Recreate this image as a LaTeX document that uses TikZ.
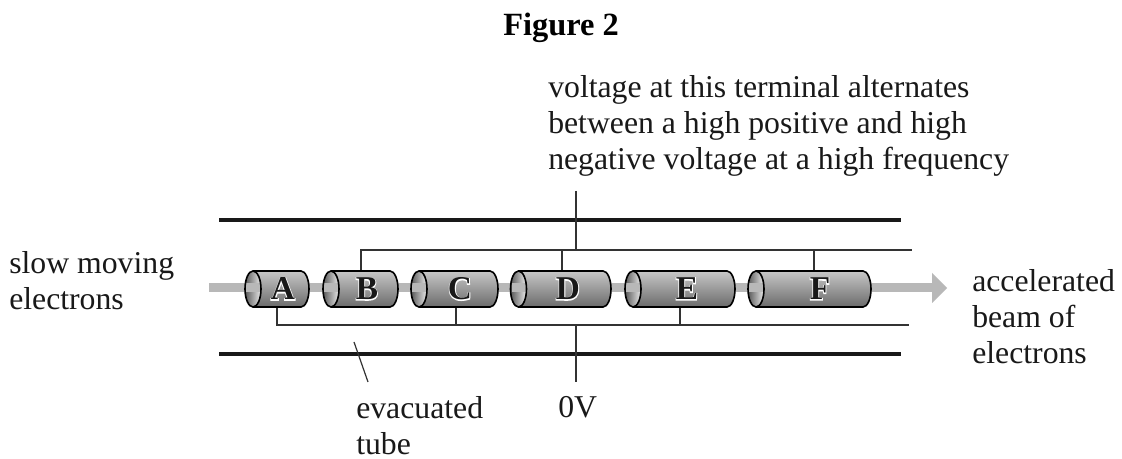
\documentclass[tikz,border=0pt]{standalone}
\usepackage{fontspec}
\setmainfont{Liberation Serif}
\newfontface\halofont[FakeBold=5]{Liberation Serif Bold}
\colorlet{beam}{black!28}
\tikzset{
  x=0.75pt,y=-0.75pt,
  wire/.style={draw=black!80,line width=0.9pt},
  tube/.style={draw=black!90,line width=2.4pt},
  lab/.style={font=\fontsize{23.8}{27}\selectfont,inner sep=0pt,align=left,text=black!90},
  cyllabel/.style={font=\fontsize{25}{25}\selectfont\bfseries,inner sep=0pt,text=black!90},
  halolabel/.style={font=\fontsize{25}{25}\selectfont\halofont,inner sep=0pt,text=white},
}
% #1 name, #2 left centre x, #3 right x, #4 letter, #5 letter x
\newcommand{\cyl}[5]{%
  \shade[top color=black!22,middle color=black!12,bottom color=black!58,shading angle=0]
    (#2,271) -- (#3-8,271) arc[start angle=-90,end angle=90,x radius=8,y radius=18]
    -- (#2,307) arc[start angle=90,end angle=270,x radius=8,y radius=18] -- cycle;
  \shade[left color=black!65,right color=black!8]
    (#2,289) ellipse[x radius=8,y radius=18];
  \fill[beam] (#2-7,283.5) rectangle (#2+7,292.5);
  \draw[black,line width=1.2pt] (#2,289) ellipse[x radius=8,y radius=18];
  \draw[black,line width=1.2pt] (#2,271) -- (#3-8,271)
    arc[start angle=-90,end angle=90,x radius=8,y radius=18] -- (#2,307);
  \node[halolabel] at (#5,289) {#4};
  \node[cyllabel] (#1) at (#5,289) {#4};
}
\begin{document}
\begin{tikzpicture}
\useasboundingbox (0,0) rectangle (1122,459);
\fill[white] (0,0) rectangle (1122,459);
\node[font=\fontsize{24.3}{28}\selectfont\bfseries,inner sep=0pt] (title) at (561,28) {Figure 2};
\node[lab,anchor=north west] (note) at (548,75) {voltage at this terminal alternates\\between a high positive and high\\negative voltage at a high frequency};
\node[lab,anchor=north west] (slow) at (9,251) {slow moving\\electrons};
\node[lab,anchor=north west] (acc) at (972,269) {accelerated\\beam of\\electrons};
\node[lab,anchor=north west] (evac) at (356,396) {evacuated\\tube};
\node[lab,anchor=north west] (zero) at (558,396) {0V};
% tube walls
\coordinate (twl) at (219,220); \coordinate (twr) at (901,220);
\coordinate (bwl) at (219,354); \coordinate (bwr) at (901,354);
\draw[tube] (twl) -- (twr);
\draw[tube] (bwl) -- (bwr);
% beam
\fill[beam] (209,283.5) rectangle (932,292.5);
\fill[beam] (932,273) -- (947,288) -- (932,303) -- cycle;
% wires
\coordinate (ut) at (576,191); \coordinate (uj) at (576,250);
\coordinate (ll) at (576,325); \coordinate (lb) at (576,382);
\draw[wire] (ut) -- (uj);
\draw[wire] (ll) -- (lb);
\draw[wire] (361,271) -- (361,250) -- (912,250);
\draw[wire] (277,307) -- (277,325) -- (909,325);
\draw[wire] (562,250) -- (562,271);
\draw[wire] (814,250) -- (814,271);
\draw[wire] (456,325) -- (456,307);
\draw[wire] (680,325) -- (680,307);
\coordinate (ev1) at (354,342); \coordinate (ev2) at (368,382);
\draw[wire] (ev1) -- (ev2);
% cylinders
\cyl{a}{253}{309}{A}{283}
\cyl{b}{331}{398}{B}{367}
\cyl{c}{419}{498}{C}{460}
\cyl{d}{518.5}{611}{D}{568}
\cyl{e}{633}{735}{E}{687}
\cyl{f}{756}{871}{F}{820}
\end{tikzpicture}
\end{document}
